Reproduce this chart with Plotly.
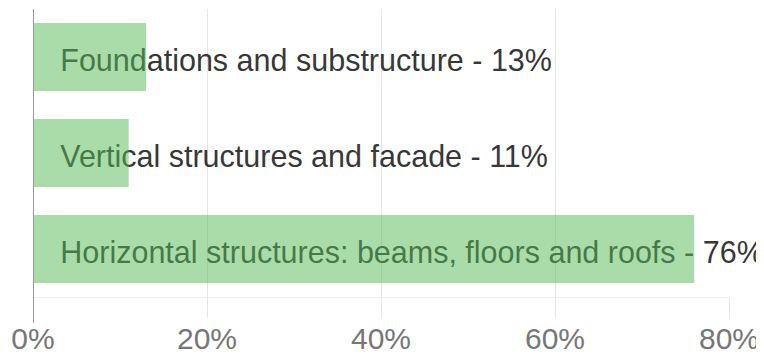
import plotly.graph_objects as go

categories = ["Foundations and substructure",
              "Vertical structures and facade",
              "Horizontal structures: beams, floors and roofs"]
shares = [13, 11, 76]
tick_values = [0, 20, 40, 60, 80]
tick_labels = ["0%", "20%", "40%", "60%", "80%"]

labels = [f"{c} - {v}%" for c, v in zip(categories, shares)]
FONT = "Liberation Sans, Arial, sans-serif"
TEXT_DROP = 0.065  # small downward nudge of the labels (in category units)

fig = go.Figure()

# text layer (below the translucent bars)
fig.add_trace(go.Scatter(
    x=[0] * len(categories), y=categories, mode="markers+text",
    text=labels, textposition="middle right",
    marker=dict(size=42, color="rgba(0,0,0,0)"),
    textfont=dict(family=FONT, size=30.5, color="#383838"),
    cliponaxis=False, hoverinfo="skip", showlegend=False,
    xaxis="x", yaxis="y",
))

# translucent bars drawn on an overlaid subplot so they tint the text
fig.add_trace(go.Bar(
    x=shares, y=categories, orientation="h",
    marker=dict(color="rgba(85,185,85,0.5)", line=dict(width=0)),
    showlegend=False, xaxis="x2", yaxis="y2",
))

n = len(categories)
fig.update_layout(
    width=756, height=348,
    margin=dict(l=25, r=35, t=1, b=59, autoexpand=False),
    paper_bgcolor="white", plot_bgcolor="white",
    bargap=0.29,
    xaxis=dict(range=[0, 80], tickvals=tick_values, ticktext=tick_labels,
               showgrid=True, gridcolor="#e6e6e6", gridwidth=1,
               zeroline=False, showline=True, linecolor="#eeeeee",
               ticks="outside", ticklen=20, tickcolor="#e6e6e6",
               ticklabelstandoff=-5,
               tickfont=dict(family=FONT, size=30, color="#777777"),
               automargin=False, fixedrange=True),
    yaxis=dict(categoryorder="array", categoryarray=categories,
               range=[n - 0.5 - TEXT_DROP, -0.5 - TEXT_DROP],
               showticklabels=False, showgrid=False,
               zeroline=False, showline=False, ticks="", automargin=False),
    xaxis2=dict(range=[0, 80], overlaying="x", visible=False),
    yaxis2=dict(categoryorder="array", categoryarray=categories,
                range=[n - 0.5, -0.5], overlaying="y", visible=False),
    shapes=[dict(type="line", xref="x", yref="paper", x0=0, x1=0,
                 y0=-0.09, y1=1.0, line=dict(color="#999999", width=2),
                 layer="above")],
)

fig.write_html("out.html")
